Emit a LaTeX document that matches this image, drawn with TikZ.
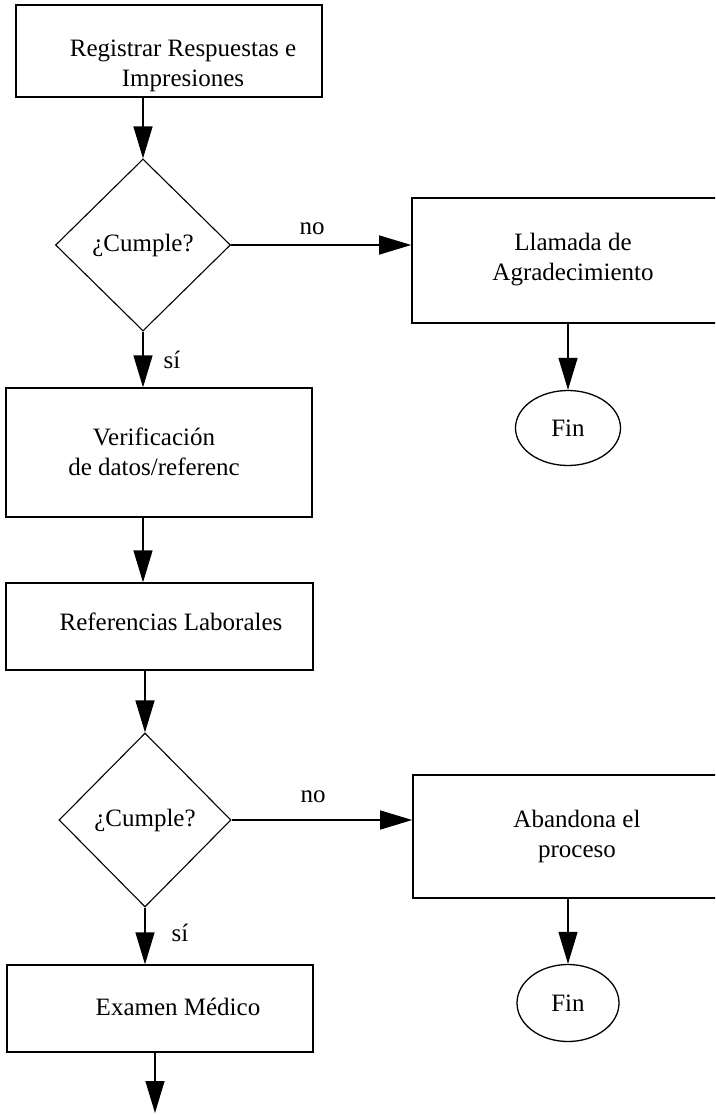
\documentclass[tikz,border=0pt]{standalone}
\usepackage{fontspec}
\setmainfont{Liberation Serif}
\usetikzlibrary{arrows.meta,shapes.geometric}
\begin{document}
\begin{tikzpicture}[x=1pt,y=-1pt,
  box/.style={draw,line width=1.3pt,rectangle,inner sep=0pt},
  dia/.style={draw,line width=1.1pt,diamond,inner sep=0pt,minimum width=175pt,minimum height=172pt,font=\fontsize{25}{30}\selectfont},
  term/.style={draw,line width=1.3pt,ellipse,inner sep=0pt,font=\fontsize{25}{30}\selectfont},
  txt/.style={align=center,font=\fontsize{25}{30}\selectfont,inner sep=0pt},
  arr/.style={line width=1.3pt,-{Triangle[length=32pt,width=19pt]}},
  lbl/.style={font=\fontsize{25}{30}\selectfont,inner sep=0pt}]
\clip (0,0) rectangle (715,1115);
\fill[white] (0,0) rectangle (715,1115);

% left column
\node[box,minimum width=306pt,minimum height=92pt] (reg) at (169,51) {};
\node[txt] (regt) at (183,66) {Registrar Respuestas e\\Impresiones};

\node[dia] (d1) at (143,245) {¿Cumple?};

\node[box,minimum width=306pt,minimum height=129pt] (ver) at (159,452.5) {};
\node[txt] (vert) at (154,452) {Verificación\\de datos/referenc};

\node[box,minimum width=307pt,minimum height=87pt] (ref) at (159.5,626.5) {};
\node[txt] (reft) at (171,622) {Referencias Laborales};

\node[dia,minimum height=174pt,minimum width=172pt] (d2) at (145,820) {¿Cumple?};

\node[box,minimum width=306pt,minimum height=87pt] (exa) at (160,1008.5) {};
\node[txt] (exat) at (178,1007) {Examen Médico};
\coordinate (endp) at (155,1113);

% right column
\node[box,line width=1.6pt,minimum width=322pt,minimum height=125pt] (lla) at (573,260.5) {};
\node[txt] (llat) at (573,260) {Llamada de\\Agradecimiento};
\node[term,minimum width=105pt,minimum height=75pt] (fin1) at (568,428) {Fin};

\node[box,line width=1.6pt,minimum width=328pt,minimum height=123pt] (aba) at (577,836.5) {};
\node[txt] (abat) at (577,836) {Abandona el\\proceso};
\node[term,minimum width=102pt,minimum height=77pt] (fin2) at (568,1003) {Fin};

% connectors
\draw[arr] (d1.north |- reg.south) -- (d1.north);
\draw[arr] (d1.east) -- (lla.west |- d1.east);
\node[lbl] (no1) at (312,229) {no};
\draw[arr] (d1.south) -- (d1.south |- ver.north);
\node[lbl] (si1) at (172,360) {sí};
\draw[arr] (fin1.north |- lla.south) -- (fin1.north);

\draw[arr] (d1.north |- ver.south) -- (d1.north |- ref.north);
\draw[arr] (d2.north |- ref.south) -- (d2.north);
\draw[arr] (d2.east) -- (aba.west |- d2.east);
\node[lbl] (no2) at (313,797) {no};
\draw[arr] (d2.south) -- (d2.south |- exa.north);
\node[lbl] (si2) at (180,933) {sí};
\draw[arr] (fin2.north |- aba.south) -- (fin2.north);
\draw[arr] (endp |- exa.south) -- (endp);
\end{tikzpicture}
\end{document}
